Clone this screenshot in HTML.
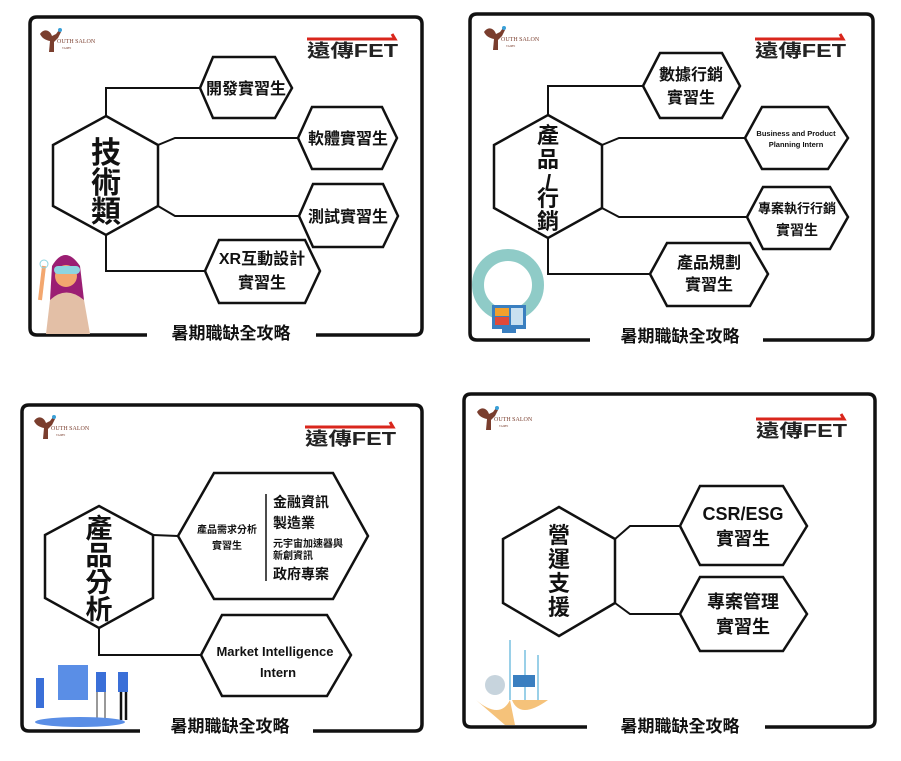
<!DOCTYPE html>
<html><head><meta charset="utf-8"><style>
html,body{margin:0;padding:0;background:#fff;}
svg{display:block;}
text{font-family:"Liberation Sans","Noto Sans CJK TC",sans-serif;font-weight:bold;fill:#111;}
.h{fill:#fff;stroke:#111;stroke-width:2.5;stroke-linejoin:miter;}
.c{fill:none;stroke:#111;stroke-width:2;}
.f{fill:none;stroke:#111;stroke-width:3.5;}
</style></head><body>
<svg width="901" height="761" viewBox="0 0 901 761" xmlns="http://www.w3.org/2000/svg">
<defs>
<g id="ys">
 <path d="M0 8 C4 2 10 4 12 10 L16 8 L19 4 L21 6 L18 12 L14 16 L14 26 L9 26 L10 15 C5 14 2 12 0 8Z" fill="#7a3e2e"/>
 <circle cx="20" cy="4" r="2" fill="#3aa0d8"/>
 <text x="17" y="17" style="font-family:'Liberation Serif',serif;font-weight:normal;font-size:6px;fill:#7a3e2e">OUTH SALON</text>
 <text x="22" y="23" style="font-family:'Liberation Serif',serif;font-weight:normal;font-size:3px;fill:#7a3e2e">TAIPEI</text>
</g>
<g id="fet">
 <path d="M0 0 H88 L85 -5 M88 0" stroke="#d9261c" stroke-width="3" fill="none"/>
 <text x="0" y="18" style="font-size:18px;fill:#222" textLength="91" lengthAdjust="spacingAndGlyphs">遠傳FET</text>
</g>
</defs>

<!-- PANEL 1 -->
<path class="f" d="M147 335 H37 Q30 335 30 328 V24 Q30 17 37 17 H415 Q422 17 422 24 V328 Q422 335 415 335 H316"/>
<use href="#ys" x="40" y="26"/>
<use href="#fet" x="307" y="39"/>
<path class="c" d="M106 116 V88 H200 M158 145 L175 138 H298 M158 206 L175 216 H299 M106 235 V271 H205"/>
<polygon class="h" points="106,116 158,145 158,206 106,235 53,206 53,145"/>
<text x="106" y="163" text-anchor="middle" font-size="30">技</text>
<text x="106" y="193" text-anchor="middle" font-size="30">術</text>
<text x="106" y="222" text-anchor="middle" font-size="30">類</text>
<polygon class="h" points="200,88 213,57 275,57 292,88 275,118 213,118"/>
<text x="246" y="94" text-anchor="middle" font-size="16">開發實習生</text>
<polygon class="h" points="298,138 312,107 382,107 397,138 382,169 312,169"/>
<text x="348" y="144" text-anchor="middle" font-size="16">軟體實習生</text>
<polygon class="h" points="299,216 313,184 383,184 398,216 383,247 313,247"/>
<text x="348" y="222" text-anchor="middle" font-size="16">測試實習生</text>
<polygon class="h" points="205,271 219,240 305,240 320,271 305,303 219,303"/>
<text x="262" y="264" text-anchor="middle" font-size="16">XR互動設計</text>
<text x="262" y="288" text-anchor="middle" font-size="16">實習生</text>
<text x="231" y="339" text-anchor="middle" font-size="17">暑期職缺全攻略</text>
<!-- VR girl -->
<path d="M52 266 Q65 244 80 266 L84 300 L50 300Z" fill="#9b1e73"/>
<path d="M50 300 Q66 285 84 300 L90 334 L46 334Z" fill="#e3bfa6"/>
<circle cx="66" cy="276" r="11" fill="#f3a76f"/>
<rect x="54" y="266" width="26" height="8" rx="4" fill="#8ed4e0"/>
<path d="M40 300 L44 266" stroke="#f3a76f" stroke-width="4"/>
<circle cx="44" cy="264" r="4" fill="none" stroke="#8ed4e0"/>

<!-- PANEL 2 -->
<path class="f" d="M590 340 H477 Q470 340 470 333 V21 Q470 14 477 14 H866 Q873 14 873 21 V333 Q873 340 866 340 H763"/>
<use href="#ys" x="484" y="24"/>
<use href="#fet" x="755" y="39"/>
<path class="c" d="M548 115 V86 H643 M602 145 L619 138 H745 M602 208 L619 217 H747 M548 238 V274 H650"/>
<polygon class="h" points="548,115 602,145 602,208 548,238 494,208 494,145"/>
<text x="548" y="143" text-anchor="middle" font-size="22">產</text>
<text x="548" y="167" text-anchor="middle" font-size="22">品</text>
<text x="548" y="190" text-anchor="middle" font-size="22" transform="rotate(0)">/</text>
<text x="548" y="206" text-anchor="middle" font-size="22">行</text>
<text x="548" y="229" text-anchor="middle" font-size="22">銷</text>
<polygon class="h" points="643,86 660,53 722,53 740,86 722,118 660,118"/>
<text x="691" y="80" text-anchor="middle" font-size="16">數據行銷</text>
<text x="691" y="103" text-anchor="middle" font-size="16">實習生</text>
<polygon class="h" points="745,138 762,107 828,107 848,138 828,169 762,169"/>
<text x="796" y="136" text-anchor="middle" font-size="7.5">Business and Product</text>
<text x="796" y="147" text-anchor="middle" font-size="7.5">Planning Intern</text>
<polygon class="h" points="747,217 763,187 830,187 848,217 830,249 763,249"/>
<text x="797" y="213" text-anchor="middle" font-size="13">專案執行行銷</text>
<text x="797" y="235" text-anchor="middle" font-size="14">實習生</text>
<polygon class="h" points="650,274 667,243 750,243 768,274 750,306 667,306"/>
<text x="709" y="268" text-anchor="middle" font-size="16">產品規劃</text>
<text x="709" y="290" text-anchor="middle" font-size="16">實習生</text>
<text x="680" y="342" text-anchor="middle" font-size="17">暑期職缺全攻略</text>
<circle cx="508" cy="285" r="30" fill="none" stroke="#8fcbc7" stroke-width="12"/>
<rect x="492" y="305" width="34" height="24" fill="#3a7fc0"/>
<rect x="495" y="308" width="14" height="8" fill="#f2a02c"/><rect x="495" y="317" width="14" height="8" fill="#e04a3a"/>
<rect x="511" y="308" width="12" height="17" fill="#c9e0f0"/>
<rect x="502" y="329" width="14" height="4" fill="#3a7fc0"/>

<!-- PANEL 3 -->
<path class="f" d="M140 731 H29 Q22 731 22 724 V412 Q22 405 29 405 H415 Q422 405 422 412 V724 Q422 731 415 731 H313"/>
<use href="#ys" x="34" y="413"/>
<use href="#fet" x="305" y="427"/>
<path class="c" d="M153 535 L178 536 M99 628 V655 H201"/>
<polygon class="h" points="99,506 153,535 153,598 99,628 45,598 45,535"/>
<text x="99" y="538" text-anchor="middle" font-size="27">產</text>
<text x="99" y="565" text-anchor="middle" font-size="27">品</text>
<text x="99" y="592" text-anchor="middle" font-size="27">分</text>
<text x="99" y="619" text-anchor="middle" font-size="27">析</text>
<polygon class="h" points="178,536 214,473 333,473 368,536 333,599 214,599"/>
<line x1="266" y1="494" x2="266" y2="581" stroke="#111" stroke-width="1.5"/>
<text x="227" y="533" text-anchor="middle" font-size="10">產品需求分析</text>
<text x="227" y="549" text-anchor="middle" font-size="10">實習生</text>
<text x="273" y="507" font-size="14">金融資訊</text>
<text x="273" y="528" font-size="14">製造業</text>
<text x="273" y="547" font-size="10">元宇宙加速器與</text>
<text x="273" y="559" font-size="10">新創資訊</text>
<text x="273" y="579" font-size="14">政府專案</text>
<polygon class="h" points="201,655 222,615 327,615 351,655 327,696 222,696"/>
<text x="275" y="656" text-anchor="middle" font-size="13">Market  Intelligence</text>
<text x="278" y="677" text-anchor="middle" font-size="13">Intern</text>
<text x="230" y="732" text-anchor="middle" font-size="17">暑期職缺全攻略</text>
<rect x="58" y="665" width="30" height="35" fill="#5a8ee6"/>
<path d="M36 678 h8 v30 h-8z M96 672 h10 v20 h-10z M118 672 h10 v20 h-10z" fill="#3a6fd8"/>
<path d="M97 692 v28 M105 692 v28" stroke="#999" stroke-width="2"/>
<path d="M121 692 v28 M126 692 v28" stroke="#111" stroke-width="2.5"/>
<ellipse cx="80" cy="722" rx="45" ry="5" fill="#5a8ee6"/>

<!-- PANEL 4 -->
<path class="f" d="M587 727 H471 Q464 727 464 720 V401 Q464 394 471 394 H868 Q875 394 875 401 V720 Q875 727 868 727 H765"/>
<use href="#ys" x="477" y="404"/>
<use href="#fet" x="756" y="419"/>
<path class="c" d="M615 539 L630 526 H680 M615 603 L630 614 H680"/>
<polygon class="h" points="559,507 615,539 615,603 559,636 503,603 503,539"/>
<text x="559" y="543" text-anchor="middle" font-size="22">營</text>
<text x="559" y="567" text-anchor="middle" font-size="22">運</text>
<text x="559" y="591" text-anchor="middle" font-size="22">支</text>
<text x="559" y="615" text-anchor="middle" font-size="22">援</text>
<polygon class="h" points="680,526 700,486 783,486 807,526 783,565 700,565"/>
<text x="743" y="520" text-anchor="middle" font-size="18">CSR/ESG</text>
<text x="743" y="545" text-anchor="middle" font-size="18">實習生</text>
<polygon class="h" points="680,614 700,577 783,577 807,614 783,651 700,651"/>
<text x="743" y="608" text-anchor="middle" font-size="18">專案管理</text>
<text x="743" y="633" text-anchor="middle" font-size="18">實習生</text>
<text x="680" y="732" text-anchor="middle" font-size="17">暑期職缺全攻略</text>
<path d="M476 700 Q500 720 510 700 L515 725 L505 725 Z M548 700 Q520 720 512 700" fill="#f5c27a"/>
<circle cx="495" cy="685" r="10" fill="#c7d4dd"/>
<path d="M510 700 V640 M525 700 V650 M538 700 V655" stroke="#9ad0e8" stroke-width="2"/>
<rect x="513" y="675" width="22" height="12" fill="#3a7fc0"/>
</svg>
</body></html>
